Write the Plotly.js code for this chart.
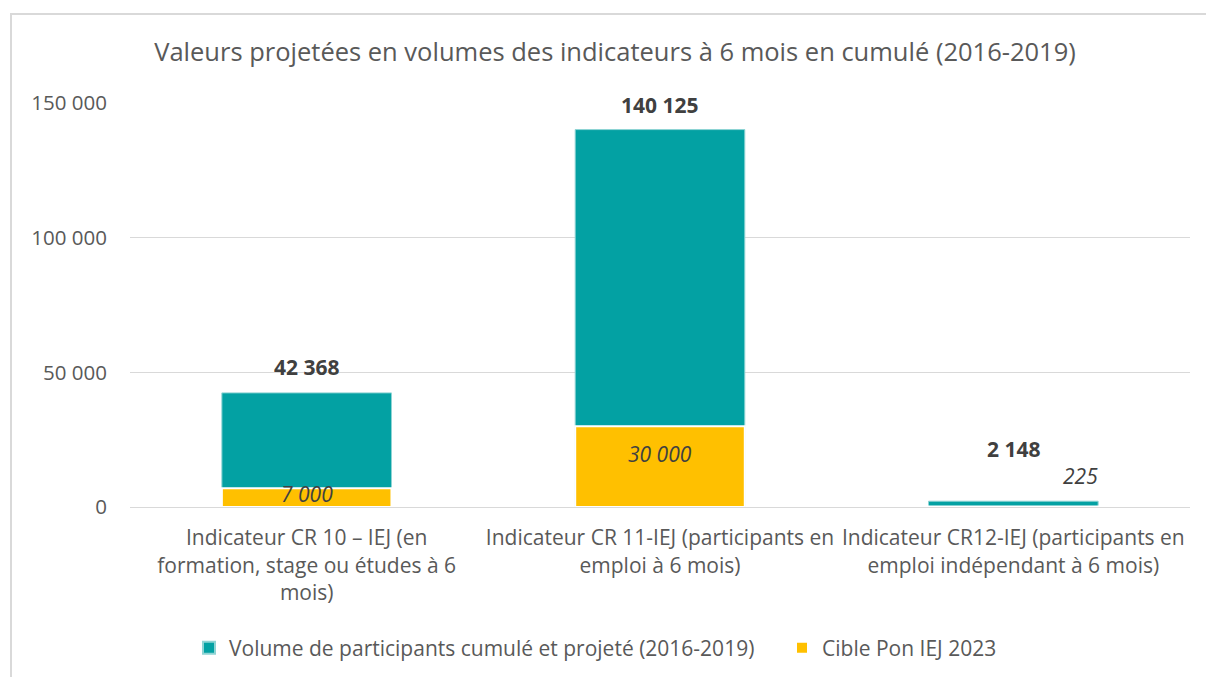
<!DOCTYPE html>
<html>
<head>
<meta charset="utf-8">
<script src="https://cdn.plot.ly/plotly-3.0.1.min.js"></script>
<style>
  html, body { margin: 0; padding: 0; background: #fff; }
  #frame { position: absolute; left: 10px; top: 13px; width: 1300px; height: 800px;
           border-left: 2px solid #d9d9d9; border-top: 2px solid #d9d9d9; }
  #chart { position: absolute; left: 0; top: 0; width: 1206px; height: 677px; }
</style>
</head>
<body>
<div id="frame"></div>
<div id="chart"></div>
<script>
const categories = [
  "Indicateur CR 10 – IEJ (en<br>formation, stage ou études à 6<br>mois)",
  "Indicateur CR 11-IEJ (participants en<br>emploi à 6 mois)",
  "Indicateur CR12-IEJ (participants en<br>emploi indépendant à 6 mois)"
];
const categoryKeys = ["CR10", "CR11", "CR12"];
const volumeValues = [42368, 140125, 2148];
const cibleValues = [7000, 30000, 225];
const seriesNames = ["Volume de participants cumulé et projeté (2016-2019)", "Cible Pon IEJ 2023"];
const yTicks = [0, 50000, 100000, 150000];

function fmt(v) { return String(v).replace(/\B(?=(\d{3})+(?!\d))/g, " "); }

const FONT = "Open Sans, sans-serif";
const teal = "#03A1A3";
const yellow = "#FFC000";

const traceVol = {
  type: "bar", name: seriesNames[0], x: categoryKeys, y: volumeValues, legend: "legend",
  width: 0.48, marker: { color: teal, line: { color: "#8fd4d4", width: 1 } },
  hoverinfo: "skip"
};
const traceCible = {
  type: "bar", name: seriesNames[1], x: categoryKeys, y: cibleValues, legend: "legend2",
  width: 0.48, marker: { color: yellow, line: { color: "#ffffff", width: 2 } },
  hoverinfo: "skip"
};

// label offsets (pixels, positive = up) to mimic reference placement
const volShift = [26, 25, 52];
const cibleShift = [[0, 4], [0, 13], [67, 30]];

const annotations = [];
volumeValues.forEach((v, i) => {
  annotations.push({ x: categoryKeys[i], y: v, xref: "x", yref: "y", text: "<b>" + fmt(v) + "</b>",
    showarrow: false, yanchor: "middle", yshift: volShift[i],
    font: { family: FONT, size: 21, color: "#404040" } });
});
cibleValues.forEach((v, i) => {
  const yc = i === 2 ? v : v / 2;
  annotations.push({ x: categoryKeys[i], y: yc, xref: "x", yref: "y", text: "<i>" + fmt(v) + "</i>",
    showarrow: false, yanchor: "middle", xshift: cibleShift[i][0], yshift: cibleShift[i][1],
    font: { family: FONT, size: 21, color: "#404040" } });
});

const legendBase = { orientation: "h", xref: "container", yref: "container", xanchor: "left",
  y: 1 - 648 / 677, yanchor: "middle",
  font: { family: FONT, size: 21, color: "#595959" }, itemsizing: "constant" };

const layout = {
  width: 1206, height: 677,
  margin: { l: 130, r: 16, t: 103, b: 170, autoexpand: false },
  paper_bgcolor: "rgba(0,0,0,0)", plot_bgcolor: "rgba(0,0,0,0)",
  barmode: "overlay",
  separators: ", ",
  font: { family: FONT, color: "#595959" },
  title: { text: "Valeurs projetées en volumes des indicateurs à 6 mois en cumulé (2016-2019)",
    font: { family: FONT, size: 25.5, color: "#595959" },
    x: 615 / 1206, xanchor: "center", xref: "container", y: 1 - 52 / 677, yanchor: "middle", yref: "container" },
  xaxis: { type: "category", tickmode: "array", tickvals: categoryKeys, ticktext: categories,
    tickfont: { family: FONT, size: 21, color: "#595959" }, showgrid: false, automargin: false,
    showline: true, linecolor: "#d9d9d9", linewidth: 1, ticks: "", ticklabelstandoff: 12, fixedrange: true },
  yaxis: { range: [0, 150000], tickmode: "array", tickvals: yTicks, automargin: false,
    ticktext: yTicks.map(fmt), tickfont: { family: FONT, size: 20.5, color: "#595959" },
    gridcolor: "#d9d9d9", gridwidth: 1, zeroline: false, showline: false, ticks: "",
    ticklabelstandoff: 22, fixedrange: true },
  showlegend: true,
  legend: Object.assign({}, legendBase, { x: 189 / 1206 }),
  legend2: Object.assign({}, legendBase, { x: 782 / 1206 }),
  annotations: annotations
};

Plotly.newPlot("chart", [traceVol, traceCible], layout, { displayModeBar: false, staticPlot: true });
</script>
</body>
</html>
